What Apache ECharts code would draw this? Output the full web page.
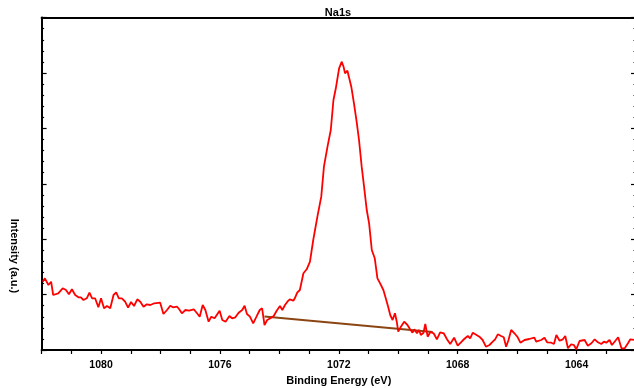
<!DOCTYPE html>
<html>
<head>
<meta charset="utf-8">
<script src="https://cdn.jsdelivr.net/npm/echarts@6/dist/echarts.min.js"></script>
<style>
html,body{margin:0;padding:0;background:#fff;}
#chart{width:634px;height:388px;}
</style>
</head>
<body>
<div id="chart"></div>
<script>
// Binding energy (eV) of each measured point
var energies = [
1081.96,1081.89,1081.77,1081.68,1081.61,1081.44,1081.29,1081.18,1081.08,1080.98,
1080.87,1080.76,1080.68,1080.59,1080.48,1080.39,1080.30,1080.20,1080.09,1080.00,
1079.90,1079.80,1079.69,1079.58,1079.49,1079.40,1079.30,1079.19,1079.09,1078.99,
1078.89,1078.78,1078.68,1078.57,1078.46,1078.34,1078.21,1078.01,1077.90,1077.78,
1077.67,1077.58,1077.44,1077.37,1077.28,1077.16,1077.04,1076.88,1076.77,1076.68,
1076.58,1076.49,1076.38,1076.29,1076.18,1076.01,1075.92,1075.81,1075.68,1075.59,
1075.48,1075.37,1075.25,1075.17,1075.09,1074.99,1074.88,1074.77,1074.66,1074.58,
1074.50,1074.41,1074.30,1074.19,1074.09,1073.98,1073.90,1073.81,1073.73,1073.65,
1073.53,1073.48,1073.40,1073.31,1073.19,1073.08,1072.97,1072.86,1072.72,1072.59,
1072.50,1072.38,1072.27,1072.18,1072.10,1071.99,1071.90,1071.84,1071.79,1071.71,
1071.66,1071.58,1071.49,1071.40,1071.32,1071.23,1071.15,1071.06,1070.98,1070.89,
1070.79,1070.70,1070.61,1070.50,1070.42,1070.34,1070.27,1070.19,1070.11,1070.05,
1070.00,1069.91,1069.80,1069.69,1069.60,1069.52,1069.46,1069.37,1069.30,1069.24,
1069.15,1069.09,1069.01,1068.92,1068.81,1068.70,1068.59,1068.47,1068.36,1068.25,
1068.12,1068.00,1067.89,1067.78,1067.66,1067.58,1067.49,1067.38,1067.27,1067.16,
1067.05,1066.93,1066.82,1066.74,1066.65,1066.54,1066.45,1066.37,1066.29,1066.20,
1066.09,1065.98,1065.89,1065.75,1065.59,1065.42,1065.36,1065.19,1065.08,1064.99,
1064.85,1064.76,1064.68,1064.57,1064.46,1064.38,1064.29,1064.18,1064.09,1064.01,
1063.90,1063.73,1063.62,1063.50,1063.39,1063.28,1063.17,1063.08,1063.00,1062.89,
1062.81,1062.72,1062.60,1062.49,1062.38,1062.27,1062.19,1062.04
];
// Intensity (a.u.) of each measured point
var intensities = [
68.3,71.7,65,68.3,55,56.7,61.7,60,55.7,60.7,
55,52.7,52.7,50,51.7,57.3,51.7,51.7,42.7,51.7,
41.7,44,41.7,55,57.7,51.7,51.7,48.3,42.3,48,
44,50.7,48.3,43.3,45.7,45,46.7,47.3,36,40,
44.3,42.7,43.3,40.7,36.7,40,39.3,40.7,36.7,33.3,
45,40,28.3,33.3,31.7,39.3,30,28.3,34,31.7,
32.7,37.3,40,44.3,36,33.3,26.7,33.3,40,41.7,
25,30,31.7,34,39.3,44,40,45,48.3,50.7,
49.3,51.7,57.3,60,76.7,80.7,88.3,110,133.3,153.3,
183.3,203.3,220,250,261.7,281.7,288.3,283.3,276.7,279.3,
278.3,263.3,246.7,228.3,210,183.3,163.3,140,126.7,100,
91.7,71.7,66.7,60,51.7,43.3,35,30,36.7,28.3,
18.3,23.3,28.3,25,20.7,17.3,20.7,16.7,20,15,
17.3,26,13.3,18,16.7,10.7,17.7,16.7,10.7,6,
12.3,4.3,7.7,11,14,11.7,17.3,15.3,13.3,10,
3.3,5,8.3,10.7,15.7,14,12.7,3.3,10,20,
16.7,12.7,7.3,10,11,12.3,8.3,10,12.3,7.7,
7.3,6,15,9.3,10.7,14,1.7,5.7,5,0.7,
9,10,4.3,6.7,10.7,7.7,6,8.3,7.3,10,
5,8.3,12.7,1.7,1.7,6.7,10.7,10
];
// Linear background under the peak
var backgroundEnergies = [1074.50, 1068.84];
var backgroundIntensities = [33.5, 18];

var xTickLabels = [1064, 1068, 1072, 1076, 1080];
var titleText = 'Na1s';
var xName = 'Binding Energy (eV)';
var yName = 'Intensity (a.u.)';

function pairs(xs, ys) {
  var out = [];
  for (var i = 0; i < xs.length; i++) out.push([xs[i], ys[i]]);
  return out;
}

var FONT = '"Liberation Sans", Arial, sans-serif';
var chart = echarts.init(document.getElementById('chart'), null, {renderer: 'canvas'});
var axisLineStyle = {color: '#000', width: 2};

chart.setOption({
  animation: false,
  backgroundColor: '#fff',
  title: {
    text: titleText,
    left: 338,
    top: 7,
    padding: 0,
    textAlign: 'center',
    textStyle: {fontFamily: FONT, fontSize: 11, fontWeight: 'bold', color: '#000'}
  },
  grid: {left: 41.6, right: -2, top: 17.6, bottom: 38, containLabel: false, outerBoundsMode: 'none'},
  xAxis: [{
    type: 'value',
    inverse: true,
    min: 1062,
    max: 1082,
    interval: 1,
    position: 'bottom',
    axisLine: {show: true, onZero: false, lineStyle: axisLineStyle},
    axisTick: {show: true, inside: false, length: 4, lineStyle: {color: '#000', width: 1.2}},
    splitLine: {show: false},
    axisLabel: {
      margin: 10,
      fontFamily: FONT, fontSize: 10.5, fontWeight: 'bold', color: '#000',
      formatter: function (v) { return xTickLabels.indexOf(v) >= 0 ? String(v) : ''; }
    },
    name: xName,
    nameLocation: 'middle',
    nameGap: 21,
    nameTextStyle: {fontFamily: FONT, fontSize: 11, fontWeight: 'bold', color: '#000'}
  }, {
    type: 'value',
    inverse: true,
    min: 1062,
    max: 1082,
    position: 'top',
    axisLine: {show: true, onZero: false, lineStyle: axisLineStyle},
    axisTick: {show: false},
    axisLabel: {show: false},
    splitLine: {show: false}
  }],
  yAxis: [{
    type: 'value',
    min: 0,
    max: 332.4,
    interval: 55.4,
    position: 'left',
    axisLine: {show: true, onZero: false, lineStyle: axisLineStyle},
    axisTick: {show: true, inside: true, length: 5, lineStyle: {color: '#000', width: 1.2}},
    minorTick: {show: true, splitNumber: 5, length: 2.5, lineStyle: {color: '#000', width: 1.2}},
    axisLabel: {show: false},
    splitLine: {show: false}
  }, {
    type: 'value',
    min: 0,
    max: 332.4,
    interval: 55.4,
    position: 'right',
    axisLine: {show: true, onZero: false, lineStyle: axisLineStyle},
    axisTick: {show: true, inside: true, length: 5, lineStyle: {color: '#000', width: 1.2}},
    minorTick: {show: true, splitNumber: 5, length: 2.5, lineStyle: {color: '#000', width: 1.2}},
    axisLabel: {show: false},
    splitLine: {show: false}
  }],
  graphic: [{
    type: 'text',
    x: 14,
    y: 256,
    rotation: -Math.PI / 2,
    style: {
      text: yName,
      fontFamily: FONT, fontSize: 11, fontWeight: 'bold', fill: '#000',
      align: 'center', verticalAlign: 'middle'
    }
  }],
  series: [{
    type: 'line',
    xAxisIndex: 0,
    yAxisIndex: 0,
    data: pairs(backgroundEnergies, backgroundIntensities),
    symbol: 'none',
    lineStyle: {color: '#8b4513', width: 1.8},
    z: 2
  }, {
    type: 'line',
    xAxisIndex: 0,
    yAxisIndex: 0,
    data: pairs(energies, intensities),
    symbol: 'none',
    lineStyle: {color: '#ff0000', width: 1.8},
    z: 3
  }]
});
</script>
</body>
</html>
